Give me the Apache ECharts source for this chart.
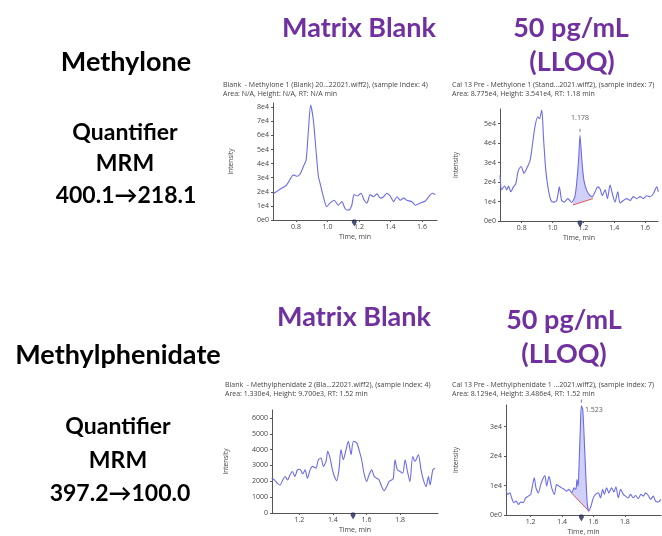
<!DOCTYPE html>
<html>
<head>
<meta charset="utf-8">
<script src="https://cdn.jsdelivr.net/npm/echarts@6/dist/echarts.min.js"></script>
<style>
  html, body { margin: 0; padding: 0; background: #fff; }
  #chart { width: 662px; height: 536px; }
</style>
</head>
<body>
<div id="chart"></div>
<script>
// Methylone, matrix blank
var p1Time = [0.660, 0.688, 0.709, 0.741, 0.766, 0.783, 0.804, 0.825, 0.847, 0.864, 0.879, 0.893, 0.910, 0.925, 0.942, 0.953, 0.974, 0.995, 1.016, 1.042, 1.069, 1.091, 1.112, 1.133, 1.154, 1.169, 1.190, 1.212, 1.233, 1.250, 1.271, 1.292, 1.314, 1.335, 1.356, 1.377, 1.398, 1.420, 1.441, 1.462, 1.483, 1.504, 1.536, 1.558, 1.589, 1.621, 1.642, 1.664, 1.685];
var p1Int = [1.9e4, 2.1e4, 2.25e4, 2.5e4, 2.95e4, 3.2e4, 3.1e4, 3.25e4, 3.8e4, 4.25e4, 6.4e4, 8.15e4, 7.1e4, 5.2e4, 3.1e4, 2.6e4, 1.65e4, 0.95e4, 1.2e4, 1.4e4, 1.05e4, 1.3e4, 0.8e4, 0.7e4, 1.05e4, 1.8e4, 1.7e4, 1.9e4, 1.4e4, 1.2e4, 1.8e4, 1.65e4, 1.85e4, 1.55e4, 1.65e4, 1.9e4, 1.7e4, 1.3e4, 1.65e4, 1.4e4, 1.55e4, 1.4e4, 1.3e4, 1.05e4, 1.2e4, 1.35e4, 1.65e4, 1.9e4, 1.8e4];
var p1RT = 1.17;

// Methylone, 50 pg/mL
var p2Time = [0.659, 0.670, 0.688, 0.703, 0.714, 0.729, 0.746, 0.761, 0.778, 0.796, 0.815, 0.832, 0.854, 0.869, 0.886, 0.904, 0.915, 0.930, 0.941, 0.956, 0.973, 0.990, 1.005, 1.027, 1.044, 1.059, 1.077, 1.098, 1.124, 1.146, 1.160, 1.170, 1.178, 1.190, 1.203, 1.220, 1.243, 1.258, 1.276, 1.293, 1.308, 1.323, 1.341, 1.356, 1.373, 1.388, 1.405, 1.423, 1.438, 1.459, 1.481, 1.503, 1.524, 1.546, 1.568, 1.589, 1.611, 1.632, 1.654, 1.676, 1.686];
var p2Int = [2.35e4, 1.6e4, 1.8e4, 1.6e4, 1.8e4, 1.5e4, 1.75e4, 1.9e4, 2.6e4, 2.8e4, 2.45e4, 2.7e4, 3.1e4, 3.9e4, 4.85e4, 5.35e4, 5.25e4, 5.7e4, 4.3e4, 2.6e4, 1.6e4, 1.05e4, 0.97e4, 1.05e4, 1.75e4, 1.05e4, 0.97e4, 1.15e4, 0.95e4, 1.3e4, 2.25e4, 3.3e4, 4.4e4, 3.1e4, 2.1e4, 1.6e4, 1.3e4, 1.25e4, 1.5e4, 1.75e4, 1.65e4, 1.3e4, 1.6e4, 1.15e4, 1.85e4, 1.4e4, 0.97e4, 1.5e4, 0.92e4, 1.05e4, 1.15e4, 1.05e4, 1.25e4, 1.15e4, 1.25e4, 1.15e4, 1.3e4, 1.25e4, 1.4e4, 1.75e4, 1.5e4];
var p2PeakStart = [1.131, 0.82e4];
var p2PeakEnd = [1.262, 1.15e4];
var p2RT = 1.178;

// Methylphenidate, matrix blank
var p3Time = [1.035, 1.051, 1.069, 1.085, 1.101, 1.115, 1.130, 1.144, 1.158, 1.174, 1.188, 1.204, 1.220, 1.234, 1.248, 1.264, 1.279, 1.299, 1.313, 1.329, 1.343, 1.359, 1.369, 1.383, 1.397, 1.409, 1.422, 1.436, 1.448, 1.462, 1.478, 1.492, 1.508, 1.522, 1.542, 1.558, 1.571, 1.585, 1.601, 1.615, 1.631, 1.645, 1.661, 1.675, 1.691, 1.705, 1.720, 1.734, 1.750, 1.760, 1.770, 1.784, 1.800, 1.816, 1.830, 1.844, 1.859, 1.875, 1.889, 1.909, 1.925, 1.939, 1.955, 1.969, 1.979, 1.995, 2.008];
var p3Int = [2190, 2085, 1870, 1765, 2085, 2300, 2085, 2400, 2620, 2300, 2720, 2765, 2470, 2720, 2190, 2720, 2940, 2830, 3360, 3470, 2940, 3255, 3890, 3470, 2720, 2300, 2040, 2720, 4000, 3360, 4000, 4530, 3680, 4530, 4425, 3890, 3360, 2510, 1980, 2400, 2720, 2340, 2190, 2085, 1660, 1400, 1660, 1980, 2085, 2190, 3360, 2720, 2620, 2510, 3360, 2620, 1980, 3570, 3255, 3680, 2720, 2085, 1660, 2300, 1765, 2720, 2830];
var p3RT = 1.52;

// Methylphenidate, 50 pg/mL
var p4Time = [1.043, 1.054, 1.068, 1.079, 1.094, 1.107, 1.122, 1.138, 1.153, 1.168, 1.185, 1.200, 1.213, 1.223, 1.234, 1.249, 1.264, 1.281, 1.291, 1.302, 1.317, 1.334, 1.351, 1.365, 1.380, 1.397, 1.414, 1.429, 1.444, 1.461, 1.476, 1.488, 1.495, 1.502, 1.508, 1.516, 1.523, 1.532, 1.545, 1.560, 1.570, 1.584, 1.599, 1.614, 1.631, 1.645, 1.658, 1.669, 1.684, 1.698, 1.715, 1.730, 1.743, 1.758, 1.773, 1.790, 1.804, 1.821, 1.836, 1.853, 1.868, 1.885, 1.902, 1.917, 1.932, 1.949, 1.964, 1.981, 1.995, 2.012, 2.029];
var p4Int = [0.87e4, 0.7e4, 0.75e4, 0.58e4, 0.42e4, 0.47e4, 0.36e4, 0.44e4, 0.42e4, 0.58e4, 0.64e4, 0.7e4, 1.03e4, 1.26e4, 0.92e4, 0.75e4, 1.03e4, 1.26e4, 1.34e4, 0.98e4, 1.31e4, 0.92e4, 0.7e4, 1.03e4, 0.98e4, 0.92e4, 0.87e4, 0.81e4, 0.87e4, 0.75e4, 0.92e4, 0.87e4, 1.2e4, 0.98e4, 1.65e4, 2.89e4, 3.7e4, 3.56e4, 2.1e4, 0.42e4, 0.13e4, 0.3e4, 0.58e4, 0.7e4, 0.75e4, 0.58e4, 0.87e4, 0.7e4, 0.92e4, 0.75e4, 0.92e4, 0.78e4, 0.96e4, 0.58e4, 0.87e4, 0.7e4, 0.64e4, 0.58e4, 0.7e4, 0.58e4, 0.66e4, 0.55e4, 0.7e4, 0.64e4, 0.75e4, 0.66e4, 0.53e4, 0.64e4, 0.47e4, 0.44e4, 0.53e4];
var p4PeakStart = [1.461, 0.74e4];
var p4PeakEnd = [1.571, 0.13e4];
var p4RT = 1.523;

// tick labels
var xTicksTop = [0.8, 1.0, 1.2, 1.4, 1.6];
var xTicksBottom = [1.2, 1.4, 1.6, 1.8];
var yTicks1 = [0, 1e4, 2e4, 3e4, 4e4, 5e4, 6e4, 7e4, 8e4];
var yTicks2 = [0, 1e4, 2e4, 3e4, 4e4, 5e4];
var yTicks3 = [0, 1000, 2000, 3000, 4000, 5000, 6000];
var yTicks4 = [0, 1e4, 2e4, 3e4];

var panelTitles = [
    ['Blank  - Methylone 1 (Blank) 20...22021.wiff2), (sample Index: 4)', 'Area: N/A, Height: N/A, RT: N/A min'],
    ['Cal 13 Pre - Methylone 1 (Stand...2021.wiff2), (sample Index: 7)', 'Area: 8.775e4, Height: 3.541e4, RT: 1.18 min'],
    ['Blank  - Methylphenidate 2 (Bla...22021.wiff2), (sample Index: 4)', 'Area: 1.330e4, Height: 9.700e3, RT: 1.52 min'],
    ['Cal 13 Pre - Methylphenidate 1 ...2021.wiff2), (sample Index: 7)', 'Area: 8.129e4, Height: 3.486e4, RT: 1.52 min']
];

var TRACE = '#6b6bec';
var SMALL = "'Open Sans', sans-serif";
var BIG = "Lato, 'Noto Sans', sans-serif";
var PURPLE = '#7030a0';

function pairs(t, v) {
    return t.map(function (x, i) { return [x, v[i]]; });
}
function sci(v) {
    return v === 0 ? '0e0' : Math.round(v / 1e4) + 'e4';
}

var grids = [
    { left: 273, top: 103, width: 164, height: 117 },
    { left: 500, top: 109, width: 158, height: 112 },
    { left: 272, top: 410, width: 166, height: 103 },
    { left: 506, top: 405, width: 155, height: 111 }
];
var xRanges = [[0.654, 1.695], [0.659, 1.684], [1.037, 2.026], [1.043, 2.03]];
var yMax = [83000, 57500, 6500, 37300];
var yTickSets = [yTicks1, yTicks2, yTicks3, yTicks4];
var xTickSets = [xTicksTop, xTicksTop, xTicksBottom, xTicksBottom];
var yGaps = [38, 40, 42, 46];

var axisStyle = {
    axisLine: { show: true, lineStyle: { color: '#555', width: 1 } },
    splitLine: { show: false }
};

var xAxes = [], yAxes = [];
for (var i = 0; i < 4; i++) {
    xAxes.push(Object.assign({
        gridIndex: i, type: 'value', min: xRanges[i][0], max: xRanges[i][1],
        name: 'Time, min', nameLocation: 'middle', nameGap: 13,
        nameTextStyle: { fontFamily: SMALL, fontSize: 7, color: '#444' },
        axisTick: { show: true, length: 2, customValues: xTickSets[i], lineStyle: { color: '#555' } },
        axisLabel: {
            customValues: xTickSets[i], fontFamily: SMALL, fontSize: 7, color: '#444', margin: 3,
            formatter: function (v) { return v.toFixed(1); }
        }
    }, axisStyle));
    yAxes.push(Object.assign({
        gridIndex: i, type: 'value', min: 0, max: yMax[i],
        name: 'Intensity', nameLocation: 'middle', nameGap: yGaps[i], nameRotate: 90,
        nameTextStyle: { fontFamily: SMALL, fontSize: 6.5, color: '#444' },
        axisTick: { show: true, length: 2, customValues: yTickSets[i], lineStyle: { color: '#555' } },
        axisLabel: {
            customValues: yTickSets[i], fontFamily: SMALL, fontSize: 7, color: '#444', margin: 4,
            formatter: i === 2 ? function (v) { return String(v); } : sci
        }
    }, axisStyle));
}

var traces = [pairs(p1Time, p1Int), pairs(p2Time, p2Int), pairs(p3Time, p3Int), pairs(p4Time, p4Int)];
var series = [];
traces.forEach(function (d, i) {
    series.push({
        type: 'line', xAxisIndex: i, yAxisIndex: i, data: d,
        showSymbol: false, smooth: 0.25, z: 3,
        lineStyle: { color: TRACE, width: 1.1 }
    });
});

function peakFill(idx, trace, start, end) {
    return {
        type: 'custom', xAxisIndex: idx, yAxisIndex: idx, z: 2, silent: true,
        data: [start],
        renderItem: function (params, api) {
            var pts = [start].concat(trace.filter(function (p) {
                return p[0] > start[0] && p[0] < end[0];
            })).concat([end]);
            return {
                type: 'polygon',
                shape: { points: pts.map(function (p) { return api.coord(p); }) },
                style: { fill: 'rgba(120,120,235,0.35)' }
            };
        }
    };
}
function baseline(idx, start, end) {
    return {
        type: 'line', xAxisIndex: idx, yAxisIndex: idx, data: [start, end], z: 4,
        showSymbol: false, lineStyle: { color: '#e05a5a', width: 1 }
    };
}
function rtMarker(idx, rt) {
    // small dark drop sitting under the axis, point downward
    return {
        type: 'scatter', xAxisIndex: idx, yAxisIndex: idx, data: [[rt, 0]], clip: false, z: 5,
        symbol: 'path://M0,4 C0,1 2,0 5,0 C8,0 10,1 10,4 C10,7 7,10 5,14 C3,10 0,7 0,4 Z',
        symbolSize: [5, 7], symbolOffset: [0, 3],
        itemStyle: { color: '#1d2554' }
    };
}
function peakLabel(idx, trace, rt, pos, offset) {
    var top = trace.filter(function (p) { return p[0] === rt; })[0];
    return {
        type: 'scatter', xAxisIndex: idx, yAxisIndex: idx, data: [top], z: 5,
        symbol: 'rect', symbolSize: [1, 3], symbolOffset: [0, -5],
        itemStyle: { color: '#555' },
        label: {
            show: true, position: pos, distance: pos === 'top' ? 7 : 3, offset: offset,
            fontFamily: SMALL, fontSize: 7, color: '#333',
            formatter: function (p) { return p.value[0].toFixed(3); }
        }
    };
}

series.push(peakFill(1, traces[1], p2PeakStart, p2PeakEnd));
series.push(baseline(1, p2PeakStart, p2PeakEnd));
series.push(peakFill(3, traces[3], p4PeakStart, p4PeakEnd));
series.push(baseline(3, p4PeakStart, p4PeakEnd));
series.push(rtMarker(0, p1RT));
series.push(rtMarker(1, p2RT));
series.push(rtMarker(2, p3RT));
series.push(rtMarker(3, p4RT));
series.push(peakLabel(1, traces[1], p2RT, 'top', [0, 0]));
series.push(peakLabel(3, traces[3], p4RT, 'right', [0, 9]));

function txt(x, y, s, font, color, align) {
    return {
        type: 'text', x: x, y: y, silent: true,
        style: { text: s, font: font, fill: color, align: align || 'center', verticalAlign: 'middle' }
    };
}
var bigBold = 'bold 27px ' + BIG;
var midBold = 'bold 23px ' + BIG;
var tiny = '7px ' + SMALL;

var graphics = [
    txt(359, 28, 'Matrix Blank', bigBold, PURPLE),
    txt(571, 28, '50 pg/mL', bigBold, PURPLE),
    txt(572, 62, '(LLOQ)', bigBold, PURPLE),
    txt(126, 62, 'Methylone', bigBold, '#000'),
    txt(125, 133, 'Quantifier', midBold, '#000'),
    txt(125, 164, 'MRM', midBold, '#000'),
    txt(126, 196, '400.1\u2192218.1', midBold, '#000'),
    txt(354, 317, 'Matrix Blank', bigBold, PURPLE),
    txt(564, 320, '50 pg/mL', bigBold, PURPLE),
    txt(564, 354, '(LLOQ)', bigBold, PURPLE),
    txt(118, 355, 'Methylphenidate', bigBold, '#000'),
    txt(118, 427, 'Quantifier', midBold, '#000'),
    txt(118, 461, 'MRM', midBold, '#000'),
    txt(120, 494, '397.2\u2192100.0', midBold, '#000')
];
var titlePos = [[223, 85], [452, 85], [225, 385], [452, 385]];
panelTitles.forEach(function (t, i) {
    graphics.push(txt(titlePos[i][0], titlePos[i][1], t[0], tiny, '#444', 'left'));
    graphics.push(txt(titlePos[i][0], titlePos[i][1] + 9, t[1], tiny, '#444', 'left'));
});

var myChart = echarts.init(document.getElementById('chart'));
myChart.setOption({
    animation: false,
    backgroundColor: '#fff',
    grid: grids,
    xAxis: xAxes,
    yAxis: yAxes,
    series: series,
    graphic: graphics
});
</script>
</body>
</html>
